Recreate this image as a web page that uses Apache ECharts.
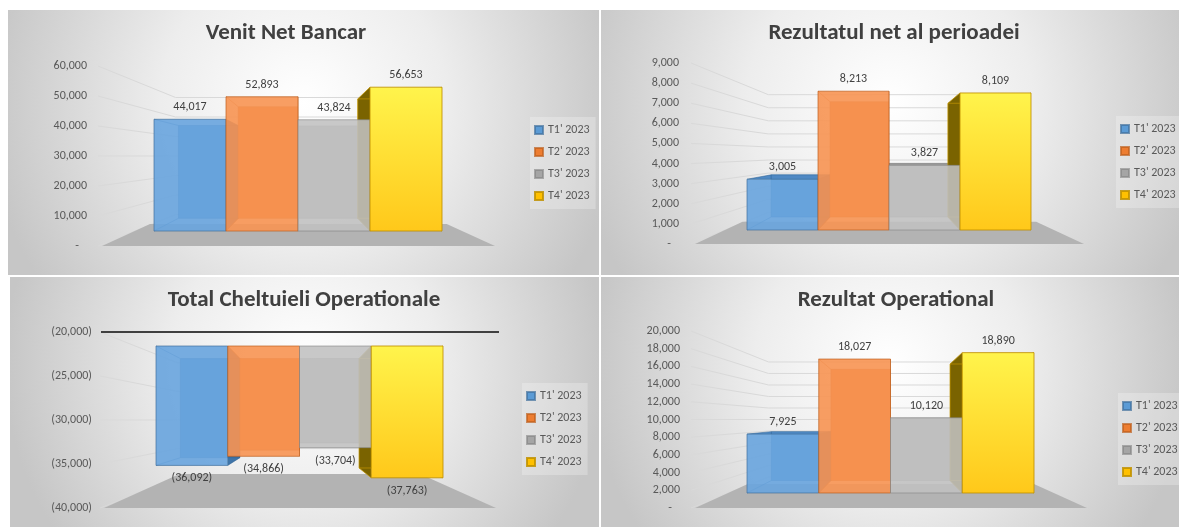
<!DOCTYPE html>
<html>
<head>
<meta charset="utf-8">
<title>Indicatori 2023</title>
<script src="https://cdn.jsdelivr.net/npm/echarts@6/dist/echarts.min.js"></script>
<style>
  html, body { margin: 0; padding: 0; background: #fff; }
  #main { width: 1179px; height: 527px; }
</style>
</head>
<body>
<div id="main"></div>
<script>
var FONT = 'Calibri, Carlito, "Liberation Sans Narrow", "Open Sans", sans-serif';

var quarters = ["T1' 2023", "T2' 2023", "T3' 2023", "T4' 2023"];

// valori pe trimestre
var venitNetBancar = [44017, 52893, 43824, 56653];
var rezultatNet = [3005, 8213, 3827, 8109];
var totalCheltuieli = [-36092, -34866, -33704, -37763];
var rezultatOperational = [7925, 18027, 10120, 18890];

// gradatiile axelor
var ticksVenit = [0, 10000, 20000, 30000, 40000, 50000, 60000];
var ticksNet = [0, 1000, 2000, 3000, 4000, 5000, 6000, 7000, 8000, 9000];
var ticksCheltuieli = [-40000, -35000, -30000, -25000, -20000];
var ticksOperational = [0, 2000, 4000, 6000, 8000, 10000, 12000, 14000, 16000, 18000, 20000];

// asezarea celor 4 grafice (front = scala fetei din fata a coloanelor)
var panels = [
  { title: 'Venit Net Bancar', values: venitNetBancar, ticks: ticksVenit, base: 0,
    box: [8, 10, 591, 265], titlePos: [286, 22], labelMargin: 67,
    grid: { left: 154, right: 737, top: 66, bottom: 281 },
    front: [-5900, 65000], floorK: 0.245, legendPos: [530, 117] },
  { title: 'Rezultatul net al perioadei', values: rezultatNet, ticks: ticksNet, base: 0,
    box: [601, 10, 578, 265], titlePos: [894, 22], labelMargin: 68,
    grid: { left: 747, right: 148, top: 63, bottom: 283 },
    front: [-828, 9882], floorK: 0.245, legendPos: [1116, 116] },
  { title: 'Total Cheltuieli Operationale', values: totalCheltuieli, ticks: ticksCheltuieli, base: -20000,
    box: [10, 277, 589, 250], titlePos: [304, 289], labelMargin: 64,
    grid: { left: 156, right: 736, top: 332, bottom: 19 },
    front: [-41833, -18113], floorK: 0.386, legendPos: [522, 383], axisOnTop: true },
  { title: 'Rezultat Operational', values: rezultatOperational, ticks: ticksOperational, base: 0,
    box: [601, 277, 578, 250], titlePos: [896, 289], labelMargin: 67,
    grid: { left: 747, right: 145, top: 331, bottom: 19 },
    front: [-2019, 21803], floorK: 0.27, legendPos: [1118, 393] }
];

var barStyles = [
  { legend: '#5B9BD5', border: 'rgba(65,113,156,0.7)', front: 'rgba(104,164,222,0.9)', back: '#5a94cb', side: '#3f74a8', top: '#4f89c4', edge: 'rgba(50,100,150,0.55)' },
  { legend: '#ED7D31', border: 'rgba(190,95,30,0.7)', front: 'rgba(247,148,82,0.9)', back: '#e47e3b', side: '#b35b1f', top: '#d06a28', edge: 'rgba(170,80,20,0.5)' },
  { legend: '#A5A5A5', border: 'rgba(130,130,130,0.6)', front: 'rgba(192,192,192,0.88)', back: '#b4b4b4', side: '#8c8c8c', top: '#9a9a9a', edge: 'rgba(120,120,120,0.45)' },
  { legend: '#FFC000', border: 'rgba(191,144,0,0.85)',
    front: { type: 'linear', x: 0, y: 0, x2: 0, y2: 1, colorStops: [{ offset: 0, color: '#fff44c' }, { offset: 1, color: '#ffc81a' }] },
    back: '#f2c200', side: '#7a6300', top: '#c8a000', edge: 'rgba(190,145,0,0.75)' }
];

var DEPTH = 0.17;

function formatValue(v) {
  if (v === 0) return '-   ';
  var s = String(Math.abs(v)).replace(/\B(?=(\d{3})+(?!\d))/g, ',');
  return v < 0 ? '(' + s + ')' : s;
}

// fata + spatele coloanei, spatele tras spre punctul de fuga (mijlocul gridului)
function geometry(params, api, base) {
  var top = api.coord([api.value(0), api.value(1)]);
  var bottom = api.coord([api.value(0), base]);
  var w = api.size([1, 0])[0];
  var cs = params.coordSys;
  var vx = cs.x + cs.width / 2, vy = cs.y + cs.height / 2;
  var x0 = top[0] - w / 2, x1 = top[0] + w / 2;
  var y0 = Math.min(top[1], bottom[1]), y1 = Math.max(top[1], bottom[1]);
  var f = [[x0, y0], [x1, y0], [x1, y1], [x0, y1]];
  var b = f.map(function (p) {
    return [p[0] + (vx - p[0]) * DEPTH, p[1] + (vy - p[1]) * DEPTH];
  });
  return { f: f, b: b, cx: top[0], x0: x0, x1: x1, y0: y0, y1: y1 };
}

function face(points, fill) {
  return { type: 'polygon', shape: { points: points }, style: { fill: fill } };
}

function renderDepth(panel, qi) {
  var st = barStyles[qi];
  return function (params, api) {
    var g = geometry(params, api, panel.base);
    var f = g.f, b = g.b;
    var kids = [face(b, st.back)];
    if (b[0][0] < f[0][0]) kids.push(face([f[0], b[0], b[3], f[3]], st.side));
    if (b[1][0] > f[1][0]) kids.push(face([f[1], b[1], b[2], f[2]], st.side));
    if (b[0][1] < f[0][1]) kids.push(face([f[0], f[1], b[1], b[0]], st.top));
    if (b[3][1] > f[3][1]) kids.push(face([f[3], f[2], b[2], b[3]], st.top));
    kids.push({ type: 'polygon', shape: { points: b }, style: { fill: 'none', stroke: st.edge, lineWidth: 1 } });
    for (var j = 0; j < 4; j++) {
      kids.push({ type: 'line', shape: { x1: f[j][0], y1: f[j][1], x2: b[j][0], y2: b[j][1] },
        style: { stroke: st.edge, lineWidth: 1 } });
    }
    return { type: 'group', children: kids };
  };
}

function renderFace(panel, qi) {
  var st = barStyles[qi];
  return function (params, api) {
    var g = geometry(params, api, panel.base);
    var v = api.value(1);
    var ly = v < panel.base ? g.y1 + 13 : g.y0 - 12;
    return { type: 'group', children: [
      { type: 'rect', shape: { x: g.x0, y: g.y0, width: g.x1 - g.x0, height: g.y1 - g.y0 },
        style: { fill: st.front, stroke: st.border, lineWidth: 1 } },
      { type: 'text', x: g.cx, y: ly,
        style: { text: formatValue(v), fill: '#404040', font: '12px ' + FONT,
          align: 'center', verticalAlign: 'middle', textAlign: 'center', textVerticalAlign: 'middle' } }
    ] };
  };
}

// liniile de grila: din dreptul etichetei spre peretele din spate
function renderWall(params, api) {
  var cs = params.coordSys;
  var vx = cs.x + cs.width / 2, vy = cs.y + cs.height / 2;
  var y = api.coord([0, api.value(1)])[1];
  var yb = y + (vy - y) * 0.35;
  var xl = cs.x + (vx - cs.x) * 0.15;
  var xr = cs.x + cs.width - (cs.x + cs.width - vx) * 0.15;
  return { type: 'polyline', shape: { points: [[cs.x - 56, y], [xl, yb], [xr, yb]] },
    style: { stroke: '#d9d9d9', lineWidth: 1, fill: 'none' } };
}

function renderFloor(panel) {
  return function (params, api) {
    var cs = params.coordSys;
    var vx = cs.x + cs.width / 2, vy = cs.y + cs.height / 2;
    var k = panel.floorK;
    var yf = cs.y + cs.height;
    var xl = cs.x - 52, xr = cs.x + cs.width + 53;
    var yb = yf + (vy - yf) * k;
    var kids = [face([[xl, yf], [xr, yf], [xr + (vx - xr) * k, yb], [xl + (vx - xl) * k, yb]], '#b3b3b3')];
    if (panel.axisOnTop) {
      kids.push({ type: 'line', shape: { x1: cs.x - 55, y1: cs.y, x2: cs.x + cs.width + 56, y2: cs.y },
        style: { stroke: '#404040', lineWidth: 2 } });
    }
    return { type: 'group', children: kids };
  };
}

var option = {
  backgroundColor: '#ffffff',
  animation: false,
  graphic: panels.map(function (p) {
    return { type: 'rect', z: 0, silent: true,
      shape: { x: p.box[0], y: p.box[1], width: p.box[2], height: p.box[3] },
      style: { fill: { type: 'radial', x: 0.5, y: 0.35, r: 1.2,
        colorStops: [{ offset: 0, color: '#ffffff' }, { offset: 0.45, color: '#ededed' }, { offset: 1, color: '#c6c6c6' }] } } };
  }),
  title: panels.map(function (p) {
    return { text: p.title, left: p.titlePos[0], top: p.titlePos[1], textAlign: 'center', padding: 0,
      textStyle: { fontFamily: FONT, fontSize: 23, fontWeight: 'bold', color: '#404040' } };
  }),
  legend: panels.map(function (p) {
    return { data: quarters, orient: 'vertical', left: p.legendPos[0], top: p.legendPos[1],
      itemWidth: 8, itemHeight: 8, itemGap: 8, icon: 'rect', selectedMode: false,
      padding: [6, 6, 6, 4], backgroundColor: 'rgba(255,255,255,0.25)',
      textStyle: { color: '#595959', fontSize: 12, fontFamily: FONT, lineHeight: 14 } };
  }),
  grid: panels.map(function (p) {
    return { left: p.grid.left, right: p.grid.right, top: p.grid.top, bottom: p.grid.bottom, outerBoundsMode: 'none' };
  }),
  xAxis: panels.map(function (p, i) {
    return { gridIndex: i, type: 'category', data: quarters, show: false };
  }),
  yAxis: [],
  series: []
};

panels.forEach(function (p, i) {
  option.yAxis.push({
    gridIndex: i, type: 'value', min: p.ticks[0], max: p.ticks[p.ticks.length - 1],
    interval: p.ticks[1] - p.ticks[0],
    axisLine: { show: false }, axisTick: { show: false }, splitLine: { show: false },
    axisLabel: { margin: p.labelMargin, color: '#595959', fontSize: 12, fontFamily: FONT, formatter: formatValue }
  });
  option.yAxis.push({ gridIndex: i, type: 'value', min: p.front[0], max: p.front[1], show: false });

  option.series.push({ type: 'custom', xAxisIndex: i, yAxisIndex: 2 * i, z: 1, silent: true, clip: false,
    data: p.ticks.map(function (t) { return [0, t]; }), renderItem: renderWall });
  option.series.push({ type: 'custom', xAxisIndex: i, yAxisIndex: 2 * i, z: 2, silent: true, clip: false,
    data: [[0, p.ticks[0]]], renderItem: renderFloor(p) });

  quarters.forEach(function (q, qi) {
    var item = { color: barStyles[qi].legend, borderColor: barStyles[qi].border, borderWidth: 1 };
    // spatele tuturor coloanelor sub fetele din fata
    option.series.push({ name: q, type: 'custom', xAxisIndex: i, yAxisIndex: 2 * i + 1, z: 3, clip: false,
      itemStyle: item, data: [[qi, p.values[qi]]], renderItem: renderDepth(p, qi) });
    option.series.push({ name: q, type: 'custom', xAxisIndex: i, yAxisIndex: 2 * i + 1, z: 4, clip: false,
      itemStyle: item, data: [[qi, p.values[qi]]], renderItem: renderFace(p, qi) });
  });
});

var chart = echarts.init(document.getElementById('main'));
chart.setOption(option);
window.addEventListener('resize', function () { chart.resize(); });
</script>
</body>
</html>
